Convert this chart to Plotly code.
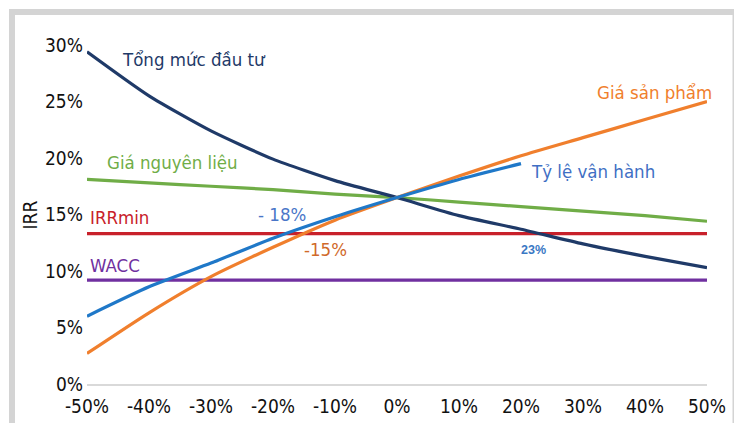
import plotly.graph_objects as go

# ---- data ----
change_pct = [-50, -40, -30, -20, -10, 0, 10, 20, 30, 40, 50]
tong_muc_dau_tu = [29.4, 25.5, 22.4, 19.9, 18.0, 16.5, 14.9, 13.7, 12.4, 11.3, 10.3]
gia_nguyen_lieu = [18.1, 17.8, 17.5, 17.2, 16.8, 16.5, 16.1, 15.7, 15.3, 14.9, 14.4]
gia_san_pham = [2.7, 6.3, 9.5, 12.1, 14.5, 16.5, 18.4, 20.2, 21.8, 23.4, 25.0]
ty_le_change = [-50, -40, -30, -20, -10, 0, 10, 20]
ty_le_van_hanh = [6.0, 8.6, 10.7, 12.9, 14.8, 16.5, 18.1, 19.5]
irr_min = 13.3
wacc = 9.2

x_ticks = [-50, -40, -30, -20, -10, 0, 10, 20, 30, 40, 50]
x_ticktext = ["-50%", "-40%", "-30%", "-20%", "-10%", "0%", "10%", "20%", "30%", "40%", "50%"]
y_ticks = [0, 5, 10, 15, 20, 25, 30]
y_ticktext = ["0%", "5%", "10%", "15%", "20%", "25%", "30%"]

FONT = "DejaVu Sans Condensed, Liberation Sans Narrow, sans-serif"

NAVY = "#1f3a68"
GREEN = "#70ad47"
ORANGE = "#f07f2d"
BLUE = "#1f78c8"
RED = "#c8202a"
PURPLE = "#7030a0"

fig = go.Figure()

def add_line(x, y, color):
    fig.add_trace(go.Scatter(x=x, y=y, mode="lines",
                             line=dict(color=color, width=3.2, shape="spline", smoothing=0.6),
                             hoverinfo="skip", showlegend=False))

add_line([x_ticks[0], x_ticks[-1]], [irr_min, irr_min], RED)
add_line([x_ticks[0], x_ticks[-1]], [wacc, wacc], PURPLE)
add_line(change_pct, gia_nguyen_lieu, GREEN)
add_line(change_pct, tong_muc_dau_tu, NAVY)
add_line(change_pct, gia_san_pham, ORANGE)
add_line(ty_le_change, ty_le_van_hanh, BLUE)

LS = 18.5
labels = [
    ("Tổng mức đầu tư", -44.6, 28.7, NAVY),
    ("Giá nguyên liệu", -47.1, 19.6, GREEN),
    ("IRRmin", -49.8, 14.7, RED),
    ("WACC", -49.8, 10.5, PURPLE),
    ("- 18%", -22.7, 15.0, "#4a76c8"),
    ("-15%", -15.3, 11.9, "#d0692a"),
    ("Tỷ lệ vận hành", 21.3, 18.8, "#3f6fc4"),
    ("Giá sản phẩm", 31.9, 25.8, ORANGE),
]
for text, x, y, color in labels:
    fig.add_annotation(x=x, y=y, text=text, showarrow=False, xanchor="left", yanchor="middle",
                       font=dict(family=FONT, size=LS, color=color))

fig.add_annotation(x=19.7, y=11.9, text="<b>23%</b>", showarrow=False, xanchor="left",
                   yanchor="middle", font=dict(family="Liberation Sans, Arial, sans-serif",
                                               size=12.5, color="#3a78c4"))

# y-axis title
fig.add_annotation(xref="paper", yref="y", x=-0.092, y=15, text="IRR", textangle=-90,
                   xanchor="center", yanchor="middle",
                   showarrow=False, font=dict(family=FONT, size=19, color="#111111"))

# outer light-grey frame
W, H, L, R, T, B = 735, 423, 87, 28, 45, 39
pw, ph = W - L - R, H - T - B
def px(x):
    return (x - L) / pw
def py(y):
    return (H - B - y) / ph
FRAME = "#d4d4d4"
fig.add_shape(type="rect", xref="paper", yref="paper", x0=px(9), x1=px(15), y0=py(H), y1=py(9),
              fillcolor=FRAME, line=dict(width=0), layer="below")
fig.add_shape(type="rect", xref="paper", yref="paper", x0=px(9), x1=px(734), y0=py(15), y1=py(9),
              fillcolor=FRAME, line=dict(width=0), layer="below")
fig.add_shape(type="rect", xref="paper", yref="paper", x0=px(732.5), x1=px(734), y0=py(H), y1=py(9),
              fillcolor=FRAME, line=dict(width=0), layer="below")

TS = 19
fig.update_layout(
    width=W, height=H,
    margin=dict(l=L, r=R, t=T, b=B, autoexpand=False),
    paper_bgcolor="white", plot_bgcolor="white",
    showlegend=False,
    font=dict(family=FONT, size=TS, color="#111111"),
    xaxis=dict(range=[-50, 50], tickvals=x_ticks, ticktext=x_ticktext, showgrid=False,
               zeroline=False, showline=True, linecolor="#d9d9d9", linewidth=2, ticks="",
               ticklabelstandoff=4, automargin=False,
               tickfont=dict(family=FONT, size=TS, color="#111111"), fixedrange=True),
    yaxis=dict(range=[0, 30], tickvals=y_ticks, ticktext=y_ticktext, showgrid=False,
               zeroline=False, showline=False, ticks="", ticklabelstandoff=3, automargin=False,
               tickfont=dict(family=FONT, size=TS, color="#111111"), fixedrange=True),
)

fig.write_html("out.html", config={"displayModeBar": False},
               post_script="document.body.style.margin='0';document.body.style.overflow='hidden';")
